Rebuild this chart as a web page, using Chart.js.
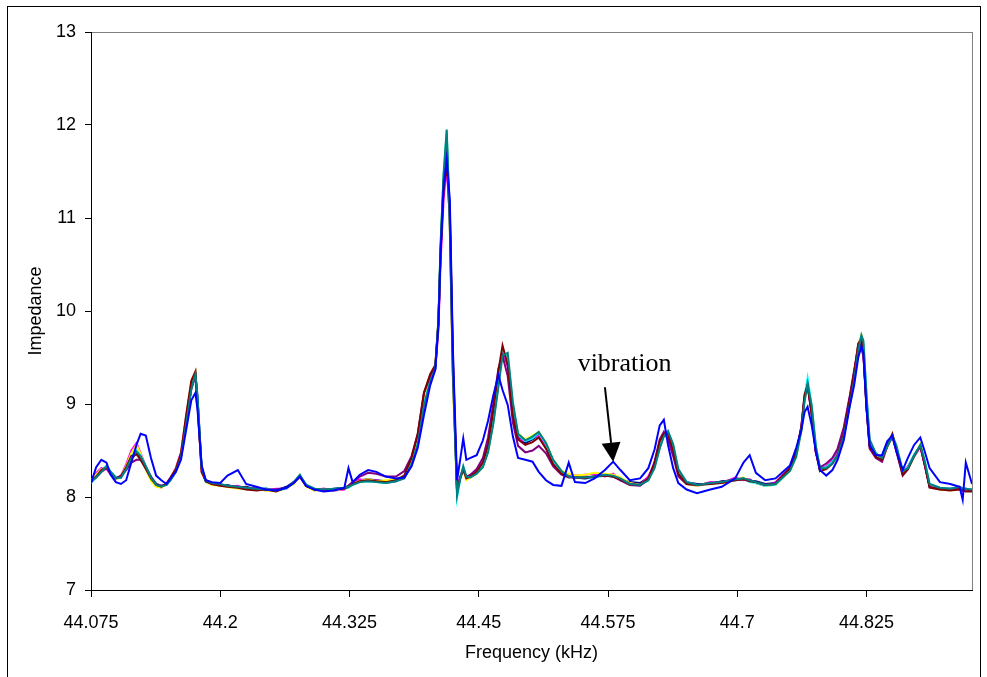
<!DOCTYPE html>
<html>
<head>
<meta charset="utf-8">
<script src="https://cdn.jsdelivr.net/npm/chart.js@4/dist/chart.umd.min.js"></script>
<style>
  body { margin: 0; background: #fff; }
  canvas { display: block; }
</style>
</head>
<body>
<canvas id="impChart" width="987" height="677"></canvas>
<script>
// frequency points (kHz), shared by all runs
const freq = [
  44.075,44.080,44.085,44.090,44.094,44.099,44.104,44.109,44.114,44.119,
  44.123,44.128,44.133,44.138,44.143,44.148,44.152,44.157,44.162,44.167,
  44.172,44.176,44.178,44.182,44.186,44.192,44.200,44.207,44.217,44.225,
  44.235,44.244,44.254,44.264,44.271,44.277,44.283,44.291,44.300,44.310,
  44.320,44.324,44.328,44.335,44.343,44.351,44.360,44.370,44.378,44.385,
  44.391,44.397,44.403,44.408,44.411,44.413,44.416,44.419,44.422,44.425,
  44.429,44.432,44.435,44.438,44.442,44.448,44.454,44.459,44.464,44.469,
  44.473,44.478,44.483,44.488,44.495,44.502,44.508,44.515,44.522,44.530,
  44.537,44.543,44.553,44.562,44.572,44.580,44.587,44.596,44.606,44.614,
  44.620,44.625,44.629,44.633,44.638,44.643,44.651,44.661,44.674,44.685,
  44.698,44.706,44.712,44.718,44.727,44.737,44.744,44.751,44.757,44.762,
  44.765,44.768,44.772,44.776,44.780,44.786,44.792,44.797,44.803,44.809,
  44.813,44.817,44.820,44.822,44.825,44.828,44.834,44.840,44.845,44.850,
  44.854,44.860,44.865,44.871,44.877,44.881,44.886,44.896,44.906,44.915,
  44.918,44.921,44.927
];

const run1 = [
  8.16,8.22,8.28,8.32,8.27,8.21,8.21,8.30,8.41,8.47,
  8.43,8.32,8.21,8.14,8.12,8.13,8.19,8.28,8.44,8.80,
  9.18,9.31,9.06,8.30,8.18,8.15,8.12,8.13,8.10,8.11,
  8.08,8.09,8.07,8.11,8.16,8.22,8.13,8.09,8.07,8.09,
  8.10,8.12,8.15,8.18,8.19,8.18,8.17,8.19,8.23,8.39,
  8.63,9.06,9.27,9.40,9.88,10.63,11.40,11.85,10.90,9.30,
  8.06,8.21,8.30,8.21,8.23,8.27,8.35,8.52,8.85,9.28,
  9.58,9.45,8.92,8.64,8.58,8.62,8.67,8.55,8.37,8.26,
  8.22,8.21,8.21,8.22,8.23,8.22,8.19,8.16,8.15,8.21,
  8.35,8.57,8.68,8.69,8.52,8.26,8.16,8.14,8.14,8.17,
  8.18,8.19,8.17,8.17,8.14,8.15,8.23,8.30,8.46,8.74,
  9.06,9.20,8.92,8.50,8.28,8.32,8.38,8.46,8.68,9.06,
  9.32,9.64,9.72,9.58,8.98,8.55,8.44,8.41,8.55,8.66,
  8.50,8.26,8.32,8.45,8.55,8.37,8.11,8.08,8.09,8.09,
  8.07,8.09,8.06
];
const run2 = [
  8.18,8.26,8.31,8.30,8.24,8.19,8.23,8.35,8.50,8.58,
  8.47,8.33,8.19,8.12,8.10,8.15,8.21,8.31,8.48,8.86,
  9.22,9.31,9.00,8.27,8.18,8.13,8.14,8.11,8.12,8.09,
  8.10,8.07,8.09,8.09,8.16,8.21,8.13,8.07,8.09,8.07,
  8.08,8.12,8.16,8.19,8.17,8.18,8.15,8.17,8.21,8.34,
  8.55,8.96,9.22,9.38,9.80,10.50,11.20,11.55,11.00,9.45,
  8.08,8.22,8.29,8.19,8.24,8.28,8.38,8.58,8.92,9.32,
  9.57,9.40,8.88,8.62,8.60,8.64,8.66,8.53,8.36,8.25,
  8.24,8.23,8.24,8.25,8.22,8.25,8.18,8.15,8.13,8.22,
  8.36,8.58,8.68,8.67,8.50,8.25,8.16,8.12,8.16,8.15,
  8.21,8.18,8.19,8.15,8.12,8.16,8.24,8.31,8.47,8.74,
  9.05,9.20,8.90,8.48,8.31,8.33,8.40,8.50,8.72,9.08,
  9.33,9.56,9.58,9.52,9.05,8.60,8.46,8.42,8.55,8.65,
  8.50,8.27,8.33,8.43,8.54,8.36,8.12,8.10,8.09,8.11,
  8.09,8.07,8.08
];
const run3 = [
  8.17,8.24,8.30,8.31,8.25,8.19,8.22,8.33,8.47,8.56,
  8.46,8.30,8.17,8.11,8.10,8.14,8.21,8.30,8.46,8.85,
  9.24,9.34,9.02,8.28,8.16,8.13,8.12,8.11,8.09,8.10,
  8.08,8.07,8.06,8.10,8.14,8.22,8.11,8.07,8.08,8.07,
  8.09,8.11,8.15,8.17,8.19,8.17,8.18,8.19,8.23,8.37,
  8.60,9.05,9.30,9.43,9.92,10.68,11.44,11.90,10.85,9.20,
  8.02,8.19,8.30,8.18,8.21,8.25,8.33,8.50,8.80,9.24,
  9.58,9.48,8.96,8.68,8.62,8.66,8.70,8.58,8.40,8.28,
  8.25,8.23,8.24,8.26,8.25,8.24,8.21,8.15,8.13,8.19,
  8.33,8.55,8.66,8.69,8.54,8.28,8.14,8.12,8.15,8.15,
  8.18,8.21,8.17,8.15,8.12,8.13,8.21,8.28,8.44,8.71,
  9.03,9.24,8.95,8.52,8.30,8.30,8.36,8.44,8.66,9.03,
  9.29,9.63,9.74,9.62,9.02,8.57,8.46,8.39,8.53,8.68,
  8.52,8.24,8.30,8.43,8.57,8.39,8.13,8.08,8.07,8.10,
  8.08,8.07,8.07
];
const run4 = [
  8.15,8.22,8.28,8.34,8.27,8.21,8.21,8.30,8.43,8.50,
  8.44,8.33,8.22,8.14,8.12,8.13,8.19,8.28,8.44,8.80,
  9.17,9.32,9.07,8.31,8.16,8.15,8.13,8.12,8.10,8.09,
  8.08,8.09,8.07,8.09,8.15,8.23,8.13,8.09,8.07,8.08,
  8.09,8.10,8.13,8.16,8.17,8.16,8.15,8.17,8.21,8.36,
  8.58,9.00,9.25,9.40,9.91,10.68,11.45,11.93,10.95,9.35,
  7.99,8.18,8.32,8.21,8.22,8.26,8.33,8.49,8.80,9.22,
  9.56,9.50,8.98,8.67,8.60,8.63,8.69,8.57,8.39,8.27,
  8.22,8.21,8.20,8.21,8.23,8.22,8.19,8.14,8.13,8.18,
  8.32,8.54,8.66,8.70,8.55,8.29,8.16,8.13,8.14,8.16,
  8.18,8.20,8.16,8.15,8.12,8.13,8.21,8.29,8.45,8.74,
  9.08,9.28,8.98,8.54,8.31,8.32,8.38,8.46,8.66,9.00,
  9.26,9.55,9.68,9.65,9.08,8.60,8.47,8.42,8.55,8.64,
  8.53,8.28,8.32,8.46,8.55,8.40,8.14,8.10,8.09,8.11,
  8.09,8.09,8.08
];
const run5 = [
  8.18,8.21,8.27,8.31,8.25,8.20,8.23,8.29,8.37,8.40,
  8.40,8.32,8.22,8.14,8.12,8.14,8.20,8.29,8.44,8.80,
  9.16,9.30,9.05,8.30,8.17,8.14,8.13,8.12,8.11,8.10,
  8.09,8.08,8.08,8.10,8.15,8.22,8.12,8.08,8.08,8.08,
  8.09,8.12,8.16,8.22,8.26,8.25,8.22,8.22,8.28,8.44,
  8.68,9.12,9.30,9.40,9.88,10.62,11.38,11.75,10.95,9.32,
  8.06,8.21,8.30,8.22,8.24,8.30,8.42,8.64,9.00,9.38,
  9.52,9.30,8.80,8.55,8.48,8.50,8.55,8.47,8.33,8.24,
  8.21,8.21,8.20,8.22,8.23,8.22,8.18,8.13,8.12,8.19,
  8.38,8.62,8.70,8.62,8.44,8.22,8.14,8.13,8.15,8.16,
  8.19,8.20,8.18,8.16,8.13,8.15,8.23,8.31,8.48,8.76,
  9.07,9.20,8.90,8.48,8.32,8.36,8.42,8.52,8.75,9.10,
  9.36,9.60,9.66,9.52,8.96,8.52,8.42,8.38,8.54,8.65,
  8.48,8.23,8.30,8.44,8.55,8.36,8.11,8.09,8.08,8.10,
  8.08,8.08,8.07
];
const run6 = [
  8.16,8.22,8.29,8.32,8.26,8.20,8.22,8.32,8.44,8.46,
  8.40,8.30,8.20,8.13,8.11,8.14,8.21,8.30,8.47,8.88,
  9.25,9.35,9.00,8.27,8.17,8.14,8.12,8.11,8.10,8.08,
  8.07,8.08,8.06,8.10,8.15,8.23,8.12,8.08,8.07,8.08,
  8.09,8.11,8.14,8.17,8.18,8.17,8.16,8.18,8.23,8.42,
  8.68,9.12,9.32,9.42,9.90,10.60,11.30,11.58,11.10,9.50,
  8.06,8.20,8.30,8.20,8.22,8.27,8.37,8.56,8.92,9.36,
  9.63,9.42,8.88,8.62,8.56,8.59,8.64,8.52,8.35,8.25,
  8.22,8.21,8.21,8.22,8.23,8.22,8.19,8.14,8.13,8.20,
  8.36,8.60,8.68,8.68,8.50,8.25,8.14,8.13,8.14,8.15,
  8.18,8.19,8.17,8.16,8.13,8.14,8.23,8.31,8.48,8.76,
  9.10,9.20,8.88,8.48,8.28,8.30,8.36,8.45,8.68,9.07,
  9.34,9.65,9.70,9.55,8.96,8.54,8.43,8.40,8.56,8.68,
  8.50,8.24,8.30,8.44,8.55,8.36,8.10,8.08,8.07,8.08,
  8.07,8.06,8.06
];
const run7 = [
  8.16,8.21,8.27,8.33,8.27,8.20,8.21,8.30,8.42,8.49,
  8.44,8.33,8.21,8.13,8.11,8.13,8.18,8.27,8.42,8.78,
  9.16,9.32,9.09,8.32,8.18,8.15,8.14,8.12,8.11,8.10,
  8.09,8.08,8.07,8.10,8.16,8.24,8.13,8.09,8.08,8.09,
  8.10,8.11,8.13,8.16,8.17,8.16,8.15,8.17,8.20,8.35,
  8.57,8.98,9.24,9.38,9.89,10.70,11.48,11.95,11.00,9.40,
  8.02,8.20,8.33,8.22,8.21,8.25,8.32,8.48,8.78,9.18,
  9.52,9.55,9.02,8.68,8.61,8.65,8.70,8.58,8.40,8.28,
  8.22,8.21,8.21,8.22,8.24,8.23,8.20,8.14,8.13,8.18,
  8.31,8.52,8.65,8.71,8.57,8.30,8.16,8.13,8.15,8.16,
  8.19,8.20,8.18,8.16,8.13,8.14,8.21,8.28,8.43,8.71,
  9.02,9.22,8.98,8.55,8.31,8.31,8.36,8.44,8.65,9.00,
  9.25,9.58,9.74,9.68,9.10,8.62,8.47,8.42,8.54,8.66,
  8.55,8.28,8.31,8.44,8.56,8.40,8.14,8.10,8.09,8.11,
  8.09,8.09,8.08
];
// the run taken with vibration
const run8 = [
  8.15,8.32,8.40,8.37,8.24,8.16,8.14,8.18,8.37,8.56,
  8.68,8.66,8.42,8.23,8.18,8.14,8.20,8.27,8.40,8.72,
  9.04,9.12,8.94,8.34,8.18,8.16,8.15,8.23,8.29,8.14,
  8.11,8.08,8.07,8.10,8.15,8.22,8.12,8.08,8.06,8.07,
  8.10,8.31,8.16,8.24,8.29,8.27,8.22,8.20,8.21,8.33,
  8.53,8.88,9.20,9.37,9.85,10.60,11.35,11.62,11.20,9.58,
  8.18,8.40,8.63,8.40,8.42,8.45,8.61,8.82,9.09,9.31,
  9.15,8.99,8.65,8.42,8.40,8.38,8.27,8.18,8.13,8.12,
  8.37,8.16,8.15,8.20,8.29,8.38,8.29,8.18,8.20,8.31,
  8.51,8.77,8.83,8.56,8.31,8.15,8.08,8.04,8.08,8.11,
  8.20,8.37,8.45,8.26,8.18,8.20,8.27,8.34,8.53,8.72,
  8.91,8.97,8.77,8.49,8.29,8.23,8.29,8.40,8.61,8.99,
  9.20,9.50,9.62,9.55,8.95,8.56,8.45,8.45,8.60,8.66,
  8.49,8.29,8.42,8.56,8.64,8.50,8.31,8.16,8.14,8.11,
  7.97,8.37,8.14
];

const runs = [run1, run2, run3, run4, run5, run6, run7, run8];
const runColors = ["#000080", "#FF00FF", "#FFFF00", "#00FFFF", "#800080", "#800000", "#008080", "#0000FF"];

const xTicks = [44.075, 44.2, 44.325, 44.45, 44.575, 44.7, 44.825];
const yTicks = [7, 8, 9, 10, 11, 12, 13];

// annotation: label and arrow pointing at the vibration bump
const noteText = "vibration";
const notePos = [44.591, 9.43];
const arrowFrom = [44.572, 9.18];
const arrowTo = [44.580, 8.38];

const datasets = runs.map(function (r, i) {
  return {
    label: "run " + (i + 1),
    data: freq.map(function (f, j) { return { x: f, y: r[j] }; }),
    borderColor: runColors[i],
    borderWidth: 2,
    pointRadius: 0,
    tension: 0,
    fill: false,
    order: runs.length - i
  };
});

const framePlugin = {
  id: "frame",
  beforeDraw(chart) {
    const ctx = chart.ctx;
    ctx.save();
    ctx.fillStyle = "#fff";
    ctx.fillRect(0, 0, chart.width, chart.height);
    ctx.strokeStyle = "#000";
    ctx.lineWidth = 1;
    ctx.strokeRect(7.5, 6.5, 973, 700);
    const a = chart.chartArea;
    ctx.strokeStyle = "#808080";
    ctx.strokeRect(a.left + 0.5, a.top + 0.5, a.right - a.left, a.bottom - a.top);
    ctx.restore();
  },
  afterDatasetsDraw(chart) {
    const ctx = chart.ctx;
    const xs = chart.scales.x, ys = chart.scales.y;
    const x0 = xs.getPixelForValue(arrowFrom[0]), y0 = ys.getPixelForValue(arrowFrom[1]);
    const x1 = xs.getPixelForValue(arrowTo[0]), y1 = ys.getPixelForValue(arrowTo[1]);
    const ang = Math.atan2(y1 - y0, x1 - x0);
    const headLen = 19, headW = 9.5;
    const bx = x1 - headLen * Math.cos(ang), by = y1 - headLen * Math.sin(ang);
    ctx.save();
    ctx.strokeStyle = "#000";
    ctx.fillStyle = "#000";
    ctx.lineWidth = 2;
    ctx.beginPath();
    ctx.moveTo(x0, y0);
    ctx.lineTo(bx, by);
    ctx.stroke();
    ctx.beginPath();
    ctx.moveTo(x1, y1);
    ctx.lineTo(bx + headW * Math.sin(ang), by - headW * Math.cos(ang));
    ctx.lineTo(bx - headW * Math.sin(ang), by + headW * Math.cos(ang));
    ctx.closePath();
    ctx.fill();
    ctx.font = "26px 'Liberation Serif', 'Times New Roman', serif";
    ctx.textAlign = "center";
    ctx.textBaseline = "middle";
    ctx.fillText(noteText, xs.getPixelForValue(notePos[0]), ys.getPixelForValue(notePos[1]));
    ctx.restore();
  }
};

const tickFont = { family: "'Liberation Sans', Arial, sans-serif", size: 18 };

new Chart(document.getElementById("impChart"), {
  type: "line",
  data: { datasets: datasets },
  plugins: [framePlugin],
  options: {
    responsive: false,
    animation: false,
    devicePixelRatio: 1,
    layout: { padding: { left: 0, top: 32, right: 15, bottom: 0 } },
    plugins: { legend: { display: false }, tooltip: { enabled: false } },
    scales: {
      x: {
        type: "linear",
        min: 44.075,
        max: 44.927,
        afterBuildTicks(scale) { scale.ticks = xTicks.map(function (v) { return { value: v }; }); },
        afterFit(scale) { scale.height = 87; },
        ticks: {
          color: "#000",
          font: tickFont,
          padding: 15,
          maxRotation: 0,
          autoSkip: false,
          callback: function (v) { return String(v); }
        },
        grid: { drawOnChartArea: false, drawTicks: true, tickLength: 7, tickColor: "#000" },
        border: { color: "#000", width: 1 },
        title: { display: true, text: "Frequency (kHz)", color: "#000", font: tickFont, padding: { top: 0, bottom: 13 } }
      },
      y: {
        min: 7,
        max: 13,
        afterBuildTicks(scale) { scale.ticks = yTicks.map(function (v) { return { value: v }; }); },
        afterFit(scale) { scale.width = 91; },
        ticks: { color: "#000", font: tickFont, padding: 9 },
        grid: { drawOnChartArea: false, drawTicks: true, tickLength: 6, tickColor: "#000" },
        border: { color: "#000", width: 1 },
        title: { display: true, text: "Impedance", color: "#000", font: tickFont, padding: { top: 25, bottom: 0 } }
      }
    }
  }
});
</script>
</body>
</html>
